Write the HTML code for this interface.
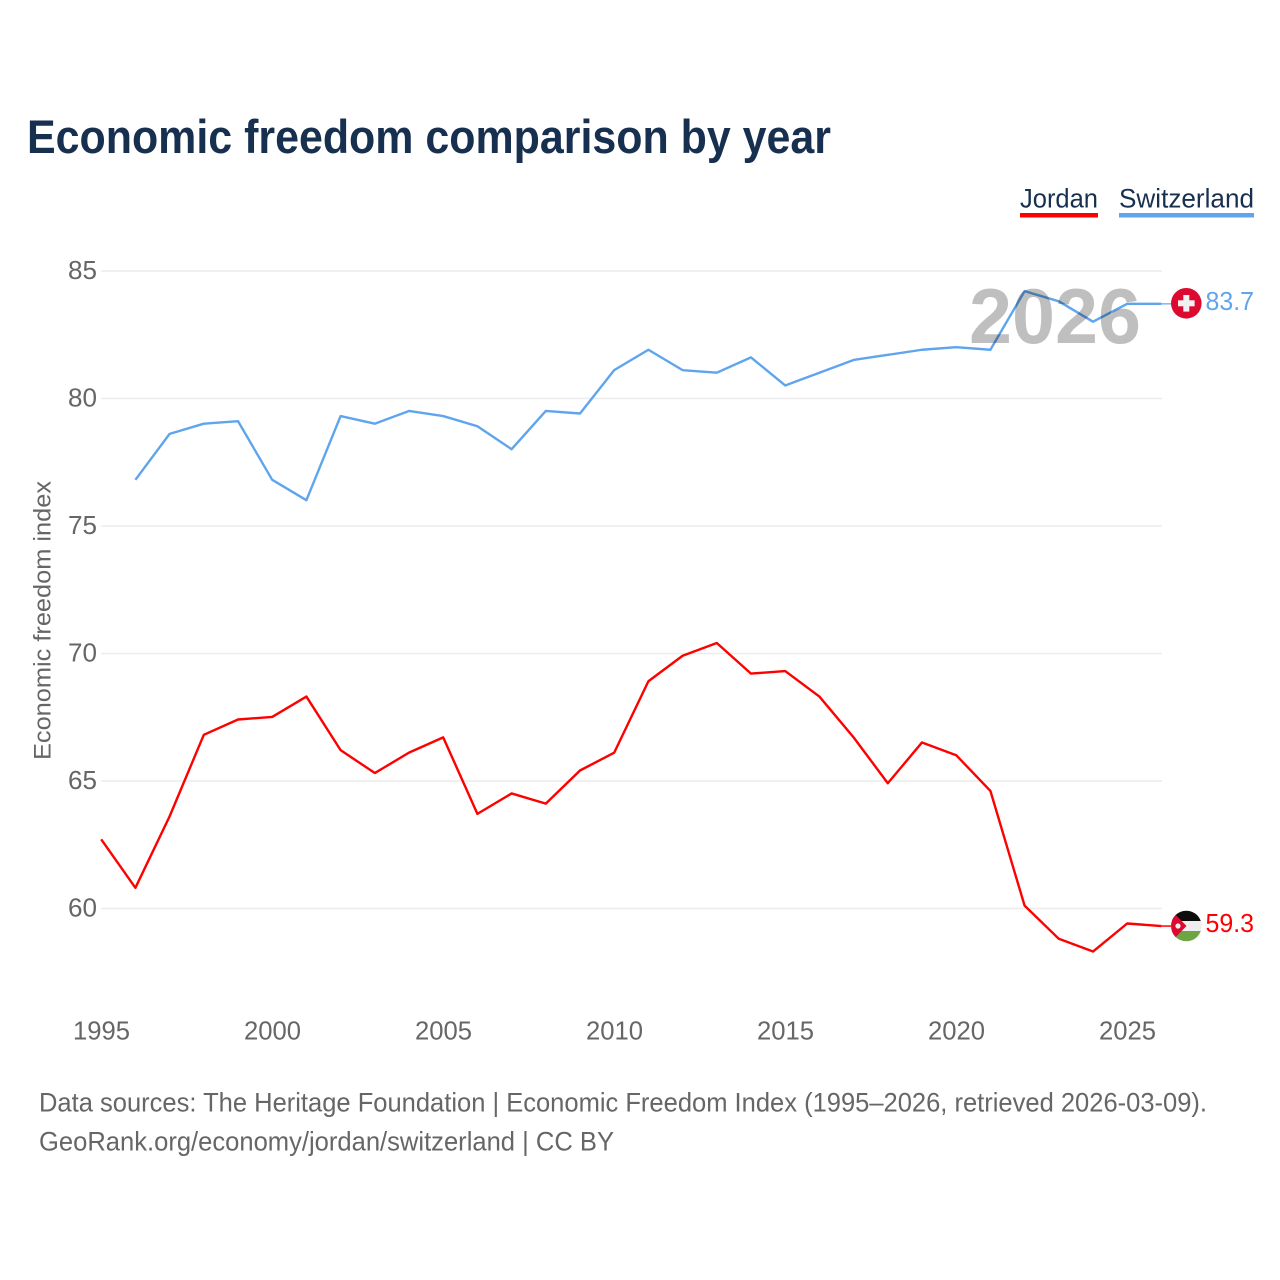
<!DOCTYPE html>
<html lang="en">
<head>
<meta charset="utf-8">
<title>Economic freedom comparison by year</title>
<style>
html,body{margin:0;padding:0;background:#fff;}
svg{display:block;font-family:"Liberation Sans",sans-serif;}
</style>
</head>
<body>
<svg id="chart" width="1280" height="1280" viewBox="0 0 1280 1280" xmlns="http://www.w3.org/2000/svg">
  <defs>
    <clipPath id="clip-ch"><circle cx="1186.3" cy="303.3" r="15.3"/></clipPath>
    <clipPath id="clip-jo"><circle cx="1186.3" cy="926" r="15.3"/></clipPath>
  </defs>
  <rect x="0" y="0" width="1280" height="1280" fill="#fff"/>
  <text x="27" y="153" font-size="47" font-weight="700" fill="#18304f" textLength="804" lengthAdjust="spacingAndGlyphs">Economic freedom comparison by year</text>

  <g>
    <text x="1020" y="207.5" font-size="27" fill="#18304f" textLength="78" lengthAdjust="spacingAndGlyphs">Jordan</text>
    <rect x="1020" y="213" width="78" height="4.5" fill="#ff0000"/>
  </g>
  <g>
    <text x="1119" y="207.5" font-size="27" fill="#18304f" textLength="135" lengthAdjust="spacingAndGlyphs">Switzerland</text>
    <rect x="1119" y="213" width="135" height="4.5" fill="#5fa5ee"/>
  </g>

  <g id="grid"></g>
  <g id="yticks"></g>
  <g id="xticks"></g>
  <g id="series"></g>

  <text x="969" y="343" font-size="78" font-weight="700" fill="#000" fill-opacity="0.25" textLength="172" lengthAdjust="spacingAndGlyphs">2026</text>

  <text transform="translate(50.5,760) rotate(-90)" x="0" y="0" font-size="24" fill="#666" textLength="279" lengthAdjust="spacingAndGlyphs">Economic freedom index</text>

  <g clip-path="url(#clip-ch)">
    <rect x="1171" y="288" width="31" height="31" fill="#dc0a30"/>
    <rect x="1183.3" y="295" width="6" height="16.6" fill="#f0f0f0"/>
    <rect x="1178" y="300.3" width="16.6" height="6" fill="#f0f0f0"/>
  </g>
  <g clip-path="url(#clip-jo)">
    <rect x="1171" y="910" width="31" height="11" fill="#0d0d0d"/>
    <rect x="1171" y="921" width="31" height="10" fill="#eeeeee"/>
    <rect x="1171" y="931" width="31" height="11" fill="#6da544"/>
    <polygon points="1171,910 1186.5,926 1171,942" fill="#dc0a30"/>
    <circle cx="1178" cy="926" r="2.6" fill="#eee"/>
  </g>
  <text x="1205.5" y="310" font-size="25.5" fill="#5fa5ee" textLength="48.5" lengthAdjust="spacingAndGlyphs">83.7</text>
  <text x="1205.5" y="932" font-size="25.5" fill="#ff0000" textLength="48.5" lengthAdjust="spacingAndGlyphs">59.3</text>

  <text x="39" y="1111.5" font-size="26.5" fill="#666" textLength="1168" lengthAdjust="spacingAndGlyphs">Data sources: The Heritage Foundation | Economic Freedom Index (1995–2026, retrieved 2026-03-09).</text>
  <text x="39" y="1150.5" font-size="26.5" fill="#666" textLength="575" lengthAdjust="spacingAndGlyphs">GeoRank.org/economy/jordan/switzerland | CC BY</text>
</svg>
<script>
var years = [1995,1996,1997,1998,1999,2000,2001,2002,2003,2004,2005,2006,2007,2008,2009,2010,2011,2012,2013,2014,2015,2016,2017,2018,2019,2020,2021,2022,2023,2024,2025,2026];
var jordanValues = [62.7,60.8,63.6,66.8,67.4,67.5,68.3,66.2,65.3,66.1,66.7,63.7,64.5,64.1,65.4,66.1,68.9,69.9,70.4,69.2,69.3,68.3,66.7,64.9,66.5,66.0,64.6,60.1,58.8,58.3,59.4,59.3];
var switzerlandValues = [null,76.8,78.6,79.0,79.1,76.8,76.0,79.3,79.0,79.5,79.3,78.9,78.0,79.5,79.4,81.1,81.9,81.1,81.0,81.6,80.5,81.0,81.5,81.7,81.9,82.0,81.9,84.2,83.8,83.0,83.7,83.7];
var yTickValues = [60,65,70,75,80,85];
var xTickValues = [1995,2000,2005,2010,2015,2020,2025];

var NS = 'http://www.w3.org/2000/svg';
function xScale(year){ return 101.2 + (year - 1995) * 34.2; }
function yScale(v){ return 908.2 - (v - 60) * 25.5; }
function make(tag, attrs, parent){
  var el = document.createElementNS(NS, tag);
  for (var k in attrs) el.setAttribute(k, attrs[k]);
  parent.appendChild(el);
  return el;
}
var grid = document.getElementById('grid');
var yticks = document.getElementById('yticks');
var xticks = document.getElementById('xticks');
var seriesGroup = document.getElementById('series');

yTickValues.forEach(function(v){
  var line = make('line', {x1:xScale(1995), x2:1162, y1:yScale(v) + 0.3, y2:yScale(v) + 0.3, stroke:'#ececec', 'stroke-width':1.5}, grid);
  
  
  var t = make('text', {x:97, y:yScale(v) + 8.3, 'font-size':25.5, fill:'#666', 'text-anchor':'end', textLength:29, lengthAdjust:'spacingAndGlyphs'}, yticks);
  t.textContent = v;
  
  
});
xTickValues.forEach(function(y){
  var t = make('text', {x:xScale(y) + 0.3, y:1039.5, 'font-size':25.5, fill:'#666', 'text-anchor':'middle', textLength:57, lengthAdjust:'spacingAndGlyphs'}, xticks);
  t.textContent = y;
  
  
});
function pathFor(values){
  var d = '', started = false;
  values.forEach(function(v, i){
    if (v === null) return;
    d += (started ? 'L' : 'M') + xScale(years[i]).toFixed(2) + ' ' + yScale(v).toFixed(2);
    started = true;
  });
  return d;
}
function lastY(values){ return yScale(values[values.length - 1]); }

var jordanConnector = make('line', {x1:xScale(2026), x2:1176, y1:lastY(jordanValues), y2:lastY(jordanValues), stroke:'#ff0000', 'stroke-width':1.5}, seriesGroup);


var swissConnector = make('line', {x1:xScale(2026), x2:1176, y1:lastY(switzerlandValues), y2:lastY(switzerlandValues), stroke:'#5fa5ee', 'stroke-width':1.2}, seriesGroup);



var jordanLine = make('path', {d:pathFor(jordanValues), fill:'none', stroke:'#ff0000', 'stroke-width':2.4, 'stroke-linejoin':'round'}, seriesGroup);


var swissLine = make('path', {d:pathFor(switzerlandValues), fill:'none', stroke:'#5fa5ee', 'stroke-width':2.4, 'stroke-linejoin':'round'}, seriesGroup);


</script>
</body>
</html>
